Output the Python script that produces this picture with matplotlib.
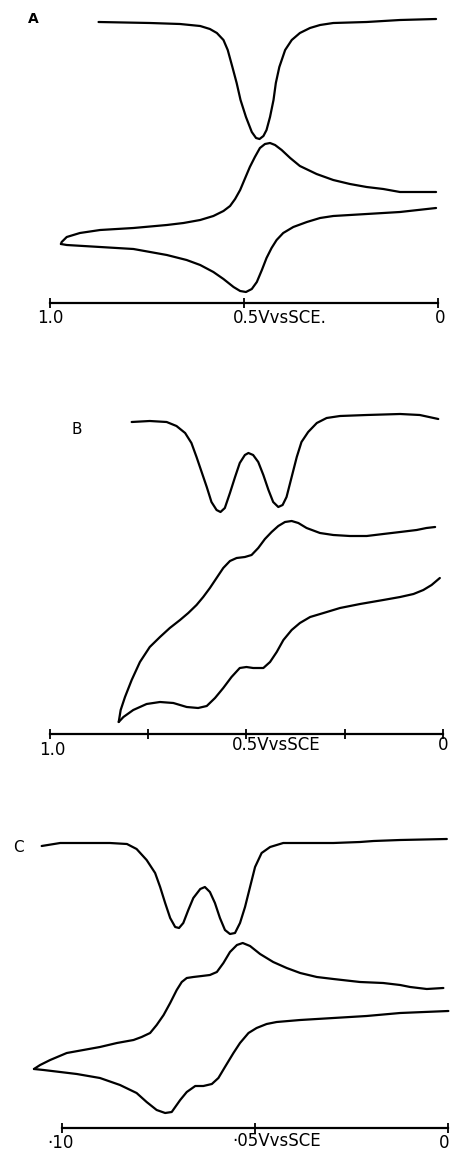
import matplotlib.pyplot as plt

# potentials in V vs SCE, currents in arbitrary units

# --- A ---
a_top_v = [0.875, 0.742, 0.665, 0.613, 0.588, 0.570, 0.553, 0.542, 0.530, 0.519,
           0.509, 0.495, 0.480, 0.469, 0.460, 0.450, 0.442, 0.433, 0.424, 0.418,
           0.409, 0.394, 0.377, 0.356, 0.330, 0.304, 0.270, 0.184, 0.098, 0.005]
a_top_i = [281, 280, 279, 277, 274, 270, 263, 253, 236, 220,
           203, 186, 171, 165, 164, 167, 173, 186, 203, 220,
           236, 253, 263, 270, 275, 278, 280, 281, 283, 284]

a_up_v = [0.005, 0.055, 0.098, 0.141, 0.184, 0.227, 0.270, 0.313, 0.356, 0.381,
          0.403, 0.420, 0.433, 0.446, 0.459, 0.472, 0.485, 0.497, 0.510, 0.523,
          0.536, 0.553, 0.579, 0.613, 0.656, 0.699, 0.785, 0.871, 0.923, 0.957,
          0.970, 0.972]
a_up_i = [111, 111, 111, 114, 116, 119, 123, 129, 137, 145,
          153, 158, 160, 159, 155, 146, 136, 125, 113, 104,
          97, 92, 87, 83, 80, 78, 75, 73, 70, 66,
          61, 59]
a_low_v = [0.972, 0.957, 0.914, 0.871, 0.785, 0.699, 0.648, 0.613, 0.579, 0.553,
           0.527, 0.510, 0.495, 0.480, 0.467, 0.454, 0.442, 0.429, 0.416, 0.399,
           0.373, 0.338, 0.304, 0.270, 0.184, 0.098, 0.005]
a_low_i = [59, 58, 57, 56, 54, 48, 43, 38, 31, 24,
           16, 12, 11, 14, 21, 33, 45, 55, 63, 70,
           76, 81, 85, 87, 89, 91, 95]

# --- B ---
b_top_v = [0.792, 0.746, 0.703, 0.678, 0.656, 0.640, 0.627, 0.614, 0.601, 0.589,
           0.576, 0.566, 0.555, 0.542, 0.529, 0.517, 0.504, 0.495, 0.483, 0.470,
           0.457, 0.444, 0.432, 0.419, 0.408, 0.398, 0.385, 0.372, 0.360, 0.343,
           0.321, 0.296, 0.262, 0.194, 0.109, 0.059, 0.012]
b_top_i = [312, 313, 312, 308, 301, 291, 277, 262, 247, 232,
           224, 222, 226, 241, 257, 271, 279, 281, 279, 272,
           259, 244, 232, 227, 229, 237, 257, 277, 292, 302,
           311, 316, 318, 319, 320, 319, 315]

b_up_v = [0.020, 0.042, 0.067, 0.109, 0.152, 0.194, 0.237, 0.279, 0.313, 0.347,
          0.368, 0.385, 0.402, 0.419, 0.436, 0.453, 0.470, 0.487, 0.504, 0.525,
          0.542, 0.559, 0.576, 0.593, 0.610, 0.627, 0.648, 0.669, 0.695, 0.720,
          0.746, 0.771, 0.792, 0.809, 0.820, 0.825]
b_up_i = [207, 206, 204, 202, 200, 198, 198, 199, 201, 206,
          211, 213, 212, 208, 202, 195, 186, 179, 177, 176,
          173, 166, 156, 146, 137, 129, 121, 114, 106, 97,
          87, 72, 54, 37, 24, 12]
b_low_v = [0.825, 0.813, 0.788, 0.754, 0.720, 0.686, 0.652, 0.623, 0.601, 0.580,
           0.559, 0.538, 0.517, 0.500, 0.483, 0.457, 0.440, 0.423, 0.406, 0.385,
           0.364, 0.338, 0.304, 0.262, 0.211, 0.152, 0.109, 0.075, 0.050, 0.029,
           0.008]
b_low_i = [12, 17, 24, 30, 32, 31, 27, 26, 28, 36,
           46, 57, 66, 67, 66, 66, 72, 82, 94, 104,
           111, 117, 121, 126, 130, 134, 137, 140, 144, 149,
           156]

# --- C ---
c_top_v = [1.053, 1.005, 0.945, 0.876, 0.832, 0.807, 0.781, 0.759, 0.746, 0.733,
           0.720, 0.707, 0.697, 0.686, 0.673, 0.660, 0.642, 0.630, 0.617, 0.604,
           0.591, 0.578, 0.565, 0.552, 0.539, 0.526, 0.513, 0.500, 0.483, 0.461,
           0.427, 0.383, 0.297, 0.228, 0.193, 0.124, 0.003]
c_top_i = [282, 285, 285, 285, 284, 279, 268, 255, 241, 225,
           210, 201, 200, 205, 218, 230, 239, 241, 236, 225,
           210, 198, 194, 195, 205, 221, 241, 261, 275, 281,
           285, 285, 285, 286, 287, 288, 289]

c_up_v = [0.012, 0.055, 0.098, 0.124, 0.168, 0.228, 0.297, 0.340, 0.383, 0.418,
          0.453, 0.487, 0.513, 0.532, 0.547, 0.565, 0.582, 0.599, 0.617, 0.638,
          0.660, 0.677, 0.690, 0.703, 0.720, 0.737, 0.755, 0.772, 0.794, 0.815,
          0.858, 0.902, 0.945, 0.988, 1.031, 1.057, 1.073]
c_up_i = [140, 139, 141, 143, 145, 146, 149, 151, 155, 160,
          166, 174, 182, 185, 183, 176, 165, 156, 153, 152,
          151, 150, 146, 138, 125, 113, 103, 95, 91, 88,
          85, 81, 78, 75, 68, 63, 59]
c_low_v = [1.073, 1.048, 1.005, 0.962, 0.902, 0.850, 0.807, 0.781, 0.755, 0.733,
           0.716, 0.694, 0.677, 0.655, 0.634, 0.612, 0.595, 0.578, 0.556, 0.539,
           0.517, 0.496, 0.470, 0.444, 0.383, 0.297, 0.211, 0.124, -0.001]
c_low_i = [59, 58, 56, 54, 50, 43, 35, 26, 18, 15,
           16, 28, 36, 42, 42, 44, 50, 61, 75, 85,
           95, 100, 104, 106, 108, 110, 112, 115, 117]

W, H = 451, 1151
fig = plt.figure(figsize=(W / 100, H / 100), dpi=100)
fig.patch.set_facecolor('white')


def make_axes(top_px, bot_px):
    return fig.add_axes([0, 1 - bot_px / H, 1, (bot_px - top_px) / H])


def panel(ax, traces, ticks, xlim, ylim):
    for v, i in traces:
        ax.plot(v, i, color='black', lw=1.6, solid_joinstyle='round',
                solid_capstyle='round')
    ax.set_xlim(xlim)
    ax.set_ylim(ylim)
    for s in ['top', 'right', 'left']:
        ax.spines[s].set_visible(False)
    ax.spines['bottom'].set_position(('data', 0))
    ax.spines['bottom'].set_bounds(0, 1)
    ax.spines['bottom'].set_linewidth(1.6)
    ax.set_xticks(ticks)
    ax.set_yticks([])
    ax.tick_params(axis='x', direction='inout', length=7, width=1.3,
                   labelbottom=False)
    ax.patch.set_visible(False)


lab = dict(fontsize=12, color='black', va='center')

# A
ax = make_axes(0, 335)
panel(ax, [(a_top_v, a_top_i), (a_up_v, a_up_i), (a_low_v, a_low_i)],
      [0, 0.5, 1.0], (1.129, -0.0335), (-32, 303))
ax.text(1.0, -15, '1.0', ha='center', **lab)
ax.text(0.528, -15, '0.5VvsSCE.', ha='left', **lab)
ax.text(-0.005, -15, '0', ha='center', **lab)

# B
ax = make_axes(340, 770)
panel(ax, [(b_top_v, b_top_i), (b_up_v, b_up_i), (b_low_v, b_low_i)],
      [0, 0.25, 0.5, 0.75, 1.0], (1.127, -0.0204), (-36, 394))
ax.text(0.995, -16, '1.0', ha='center', **lab)
ax.text(0.537, -11, '0.5VvsSCE', ha='left', **lab)
ax.text(0.0, -11, '0', ha='center', **lab)

# C
ax = make_axes(780, 1151)
panel(ax, [(c_top_v, c_top_i), (c_up_v, c_up_i), (c_low_v, c_low_i)],
      [0, 0.5, 1.0], (1.161, -0.0078), (-23, 348))
ax.text(1.005, -15, '·10', ha='center', **lab)
ax.text(0.56, -13, '·05VvsSCE', ha='left', **lab)
ax.text(0.011, -15, '0', ha='center', **lab)

fig.text(33 / W, 1 - 19 / H, 'A', fontsize=10, fontweight='bold', ha='center', va='center')
fig.text(77 / W, 1 - 430 / H, 'B', fontsize=11, ha='center', va='center')
fig.text(18 / W, 1 - 848 / H, 'C', fontsize=11, ha='center', va='center')

fig.savefig('out.png', dpi=100, facecolor='white')
